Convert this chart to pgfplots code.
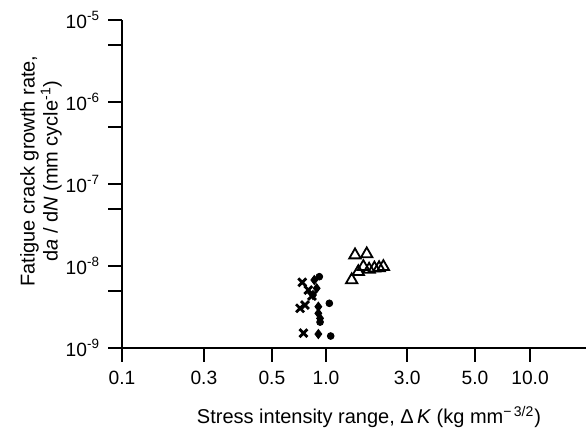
\documentclass[border=0pt]{standalone}
\usepackage{fontspec}
\setmainfont{Liberation Sans}
\usepackage{pgfplots}
\pgfplotsset{compat=1.18}

\begin{document}
\begin{tikzpicture}
\begin{axis}[
  scale only axis,
  width=232pt, height=164pt,
  xmode=log, ymode=log,
  xmin=0.1, xmax=18.8,
  ymin=1e-9, ymax=1e-5,
  axis x line=bottom, axis y line=left,
  axis line style={-, line width=1.1pt},
  every tick/.style={black, line width=1pt},
  tick align=outside,
  major tick length=7pt, minor tick length=7pt,
  xtick={0.1,0.252,0.543,1.0,2.5,5.37,10},
  xticklabels={0.1,0.3,0.5,1.0,3.0,5.0,10.0},
  ytick={1e-9,1e-8,1e-7,1e-6,1e-5},
  yticklabels={10\textsuperscript{-9},10\textsuperscript{-8},10\textsuperscript{-7},10\textsuperscript{-6},10\textsuperscript{-5}},
  minor ytick={5e-9,5e-8,5e-7,5e-6},
  minor xtick={},
  /pgf/number format/assume math mode=true,
  ticklabel style={font=\fontsize{9.6}{11}\selectfont},
  xticklabel style={yshift=-1pt},
  yticklabel style={xshift=-0.5pt},
  xlabel={Stress intensity range, Δ\,\textit{K} (kg mm\textsuperscript{−\,3/2})},
  ylabel={Fatigue crack growth rate,\\ d\textit{a} / d\textit{N} (mm cycle\textsuperscript{-1})},
  label style={font=\fontsize{10}{10.5}\selectfont},
  ylabel style={align=center, yshift=-5pt, xshift=6.5pt},
  xlabel style={yshift=-4pt, xshift=7.5pt},
  clip=false,
]
% crosses
\addplot[only marks, mark=x, mark size=2.8pt, line width=1.4pt] coordinates {
  (0.765,6.32e-9) (0.819,5.09e-9) (0.746,3.05e-9) (0.789,3.34e-9)
  (0.853,4.31e-9) (0.775,1.52e-9)
};
% filled diamonds
\addplot[only marks, mark=diamond*, mark size=2.3pt, black] coordinates {
  (0.876,6.75e-9) (0.900,5.35e-9) (0.917,3.19e-9) (0.917,2.65e-9)
  (0.935,2.30e-9) (0.917,1.48e-9) (0.863,4.43e-9)
};
% filled circles
\addplot[only marks, mark=*, mark size=1.7pt, black] coordinates {
  (0.927,7.41e-9) (1.038,3.51e-9) (1.054,1.40e-9) (0.935,2.07e-9)
};
% open triangles
\addplot[only marks, mark=triangle, mark size=3.3pt, line width=0.9pt, black] coordinates {
  (1.387,1.36e-8) (1.583,1.40e-8) (1.524,9.8e-9) (1.626,9.1e-9)
  (1.726,9.4e-9) (1.820,9.5e-9) (1.910,9.8e-9) (1.439,8.5e-9)
  (1.336,6.75e-9)
};
\end{axis}
\pgfresetboundingbox
\path[use as bounding box] (-61pt,-40pt) rectangle (232pt,174pt);
\end{tikzpicture}
\end{document}
